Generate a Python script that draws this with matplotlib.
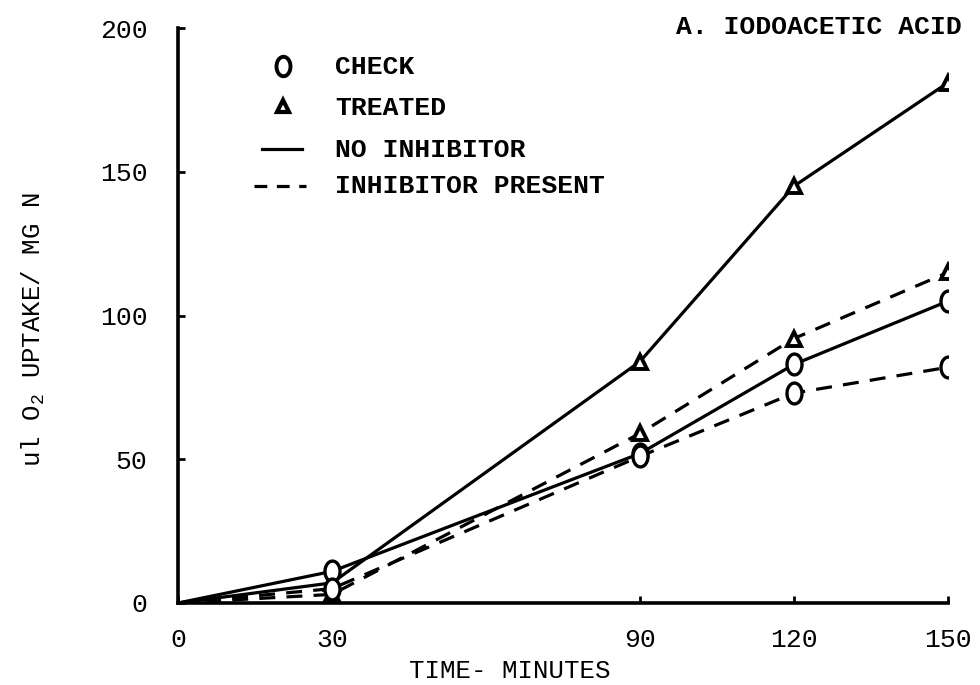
import numpy as np
import matplotlib
matplotlib.use("Agg")
import matplotlib.pyplot as plt
from matplotlib.path import Path
from matplotlib.lines import Line2D

# Time points (minutes) and O2 uptake (ul / mg N)
minutes = [0, 30, 90, 120, 150]
check_no_inhib = [0, 11, 52, 83, 105]
treated_no_inhib = [0, 7, 84, 145, 181]
check_inhib = [0, 5, 51, 73, 82]
treated_inhib = [0, 3, 59, 92, 115]

x_ticks = [0, 30, 90, 120, 150]
y_ticks = [0, 50, 100, 150, 200]

FONT = "Liberation Mono"
FS = 19
plt.rcParams["font.family"] = FONT
plt.rcParams["mathtext.fontset"] = "custom"
plt.rcParams["mathtext.rm"] = FONT

# Upright oval marker, like a typed letter O
t = np.linspace(0, 2 * np.pi, 60)
oval = Path(np.column_stack([0.72 * np.cos(t), np.sin(t)]), closed=True)

fig = plt.figure(figsize=(9.8, 6.85), dpi=100)
ax = fig.add_axes([178 / 980, 82 / 685, 770 / 980, 575 / 685])

LW = 2.3
DASH = (0, (5, 3.5))
circ = dict(marker=oval, markersize=15, markerfacecolor="white",
            markeredgecolor="black", markeredgewidth=2.4, markevery=[1, 2, 3, 4])
tri = dict(marker="^", markersize=10, markerfacecolor="white",
           markeredgecolor="black", markeredgewidth=2.8, markevery=[1, 2, 3, 4])

ax.plot(minutes, treated_no_inhib, color="black", lw=LW, **tri)
ax.plot(minutes, treated_inhib, color="black", lw=LW, ls=DASH, **tri)
ax.plot(minutes, check_no_inhib, color="black", lw=LW, **circ)
ax.plot(minutes, check_inhib, color="black", lw=LW, ls=DASH, **circ)

ax.set_xlim(0, 150)
ax.set_ylim(0, 200)
ax.set_xticks(x_ticks)
ax.set_yticks(y_ticks)
ax.set_xticklabels([str(v) for v in x_ticks], fontsize=FS)
ax.set_yticklabels([str(v) for v in y_ticks], fontsize=FS)
ax.tick_params(axis="y", direction="in", length=5, width=2, pad=22)
ax.tick_params(axis="x", direction="in", length=5, width=2, pad=18)
for side in ("top", "right"):
    ax.spines[side].set_visible(False)
for side in ("left", "bottom"):
    ax.spines[side].set_linewidth(2.6)

ax.set_xlabel("TIME- MINUTES", fontsize=FS - 0.5)
ax.xaxis.set_label_coords((510 - 178) / 770, -(659 - 603) / 575)
ax.set_ylabel(r"ul O$_2$ UPTAKE/ MG N", fontsize=FS - 0.5)
ax.yaxis.set_label_coords(-(178 - 47) / 770, (603 - 330) / 575)

fig.text(962 / 980, 1 - 27 / 685, "A. IODOACETIC ACID", fontsize=FS,
         ha="right", va="center", fontweight="bold")

# Key
def fx(px):
    return px / 980

def fy(py):
    return 1 - py / 685

key_rows = [
    (67, "CHECK"),
    (108, "TREATED"),
    (150, "NO INHIBITOR"),
    (186, "INHIBITOR PRESENT"),
]
for py, label in key_rows:
    fig.text(fx(335), fy(py), label, fontsize=FS, ha="left", va="center",
             fontweight="bold")

fig.add_artist(Line2D([fx(283)], [fy(66)], marker=oval, markersize=14,
                      markerfacecolor="white", markeredgecolor="black",
                      markeredgewidth=2.8, transform=fig.transFigure))
fig.add_artist(Line2D([fx(283)], [fy(106)], marker="^", markersize=8,
                      markerfacecolor="white", markeredgecolor="black",
                      markeredgewidth=3.0, transform=fig.transFigure))
fig.add_artist(Line2D([fx(262), fx(302)], [fy(149), fy(149)], color="black",
                      lw=LW, transform=fig.transFigure))
fig.add_artist(Line2D([fx(254), fx(306)], [fy(186), fy(186)], color="black",
                      lw=LW, ls=(0, (4, 3)), transform=fig.transFigure))

fig.savefig("out.png", dpi=100)
